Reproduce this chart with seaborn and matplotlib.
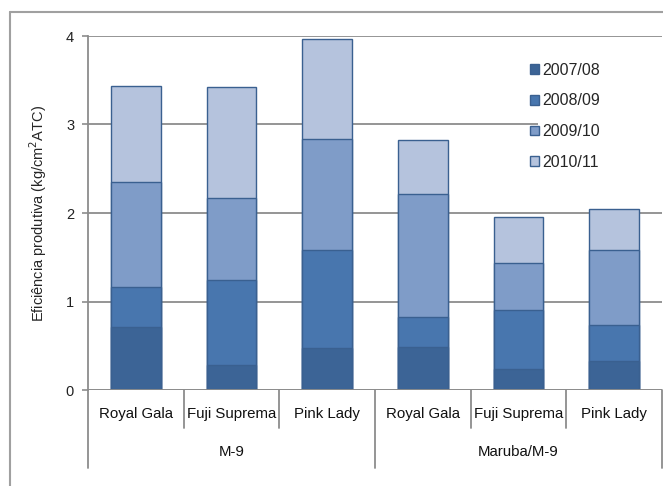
import numpy as np
import pandas as pd
import seaborn as sns
import matplotlib.pyplot as plt
from matplotlib.lines import Line2D
from matplotlib.patches import Rectangle

groups = ["M-9", "Maruba/M-9"]
cultivars = ["Royal Gala", "Fuji Suprema", "Pink Lady"]
seasons = ["2007/08", "2008/09", "2009/10", "2010/11"]

# segment values per season, in bar order (M-9 x3, Maruba/M-9 x3)
s_0708 = [0.71, 0.28, 0.47, 0.49, 0.24, 0.33]
s_0809 = [0.45, 0.96, 1.11, 0.33, 0.66, 0.40]
s_0910 = [1.19, 0.93, 1.26, 1.39, 0.54, 0.85]
s_1011 = [1.09, 1.25, 1.13, 0.62, 0.51, 0.46]

colors = ["#3c6496", "#4876ae", "#7f9cc8", "#b5c3dd"]
edge = "#3a6090"
grid_c = "#8c8c8c"

keys = [f"{g}|{c}" for g in groups for c in cultivars]
segs = np.array([s_0708, s_0809, s_0910, s_1011])
cum = segs.cumsum(axis=0)

rows = []
for i, s in enumerate(seasons):
    for j, k in enumerate(keys):
        rows.append({"key": k, "season": s, "cum": cum[i, j]})
df = pd.DataFrame(rows)

sns.set_theme(style="white")
plt.rcParams["font.family"] = ["Liberation Sans", "DejaVu Sans"]

fig = plt.figure(figsize=(6.63, 4.86), dpi=100)
ax = fig.add_axes([88 / 663, 1 - 390 / 486, 1 - 88 / 663 - 1 / 663, 354 / 486])

# draw stacked bars top-down as cumulative layers
for i in reversed(range(len(seasons))):
    sub = df[df["season"] == seasons[i]]
    sns.barplot(data=sub, x="key", y="cum", order=keys, color=colors[i],
                saturation=1, width=0.52, edgecolor=edge, linewidth=1,
                errorbar=None, ax=ax, zorder=3)

ax.set_xlim(-0.5, 5.5)
ax.set_ylim(0, 4)
ax.set_yticks([0, 1, 2, 3, 4])
ax.yaxis.grid(True, color=grid_c, linewidth=1.3)
ax.set_axisbelow(True)
for sp in ["top", "right", "bottom"]:
    ax.spines[sp].set_visible(False)
ax.spines["left"].set_color(grid_c)
ax.spines["left"].set_linewidth(1.3)
ax.axhline(0, color=grid_c, linewidth=1.3, zorder=4)

ax.tick_params(axis="y", left=True, length=4, width=1.2, color=grid_c,
               labelsize=10.5, labelcolor="#222222", pad=6)
ax.set_xticks(range(len(keys)))
ax.set_xticklabels([k.split("|")[1] for k in keys], fontsize=10.8, color="#111111")
ax.tick_params(axis="x", length=0, pad=12)
ax.set_xlabel("")
ax.set_ylabel("Eficiência produtiva (kg/cm$^2$ATC)", fontsize=10.5, labelpad=12)

# category separators below the axis
tr = ax.get_xaxis_transform()
for x in [0.5, 1.5, 3.5, 4.5]:
    ax.add_line(Line2D([x, x], [0, -38 / 354], transform=tr, color=grid_c,
                       linewidth=1.3, clip_on=False))
for x in [-0.5, 2.5, 5.5]:
    ax.add_line(Line2D([x, x], [0, -78 / 354], transform=tr, color=grid_c,
                       linewidth=1.3, clip_on=False))
for gi, g in enumerate(groups):
    ax.text(gi * 3 + 1, -62 / 354, g, transform=tr, ha="center", va="center",
            fontsize=10.8, color="#111111")

# white patch where the legend sits over the gridline
ax.add_patch(Rectangle((4.2, 2.82), 1.45, 0.35, facecolor="white",
                       edgecolor="none", zorder=2))

handles = [Rectangle((0, 0), 1, 1, facecolor=colors[i], edgecolor=edge,
                     linewidth=1) for i in range(len(seasons))]
leg = ax.legend(handles, seasons, loc="upper left", bbox_to_anchor=(0.745, 0.965),
                frameon=False, fontsize=11.5, handlelength=0.55, handleheight=0.55,
                handletextpad=0.2, labelspacing=0.98)
leg.set_zorder(5)

# outer chart frame
fig.add_artist(Line2D([10 / 663, 1], [1 - 12 / 486, 1 - 12 / 486],
                      transform=fig.transFigure, color="#a0a0a0", linewidth=1.5))
fig.add_artist(Line2D([10 / 663, 10 / 663], [0, 1 - 12 / 486],
                      transform=fig.transFigure, color="#a0a0a0", linewidth=1.5))

fig.savefig("out.png", dpi=100)
